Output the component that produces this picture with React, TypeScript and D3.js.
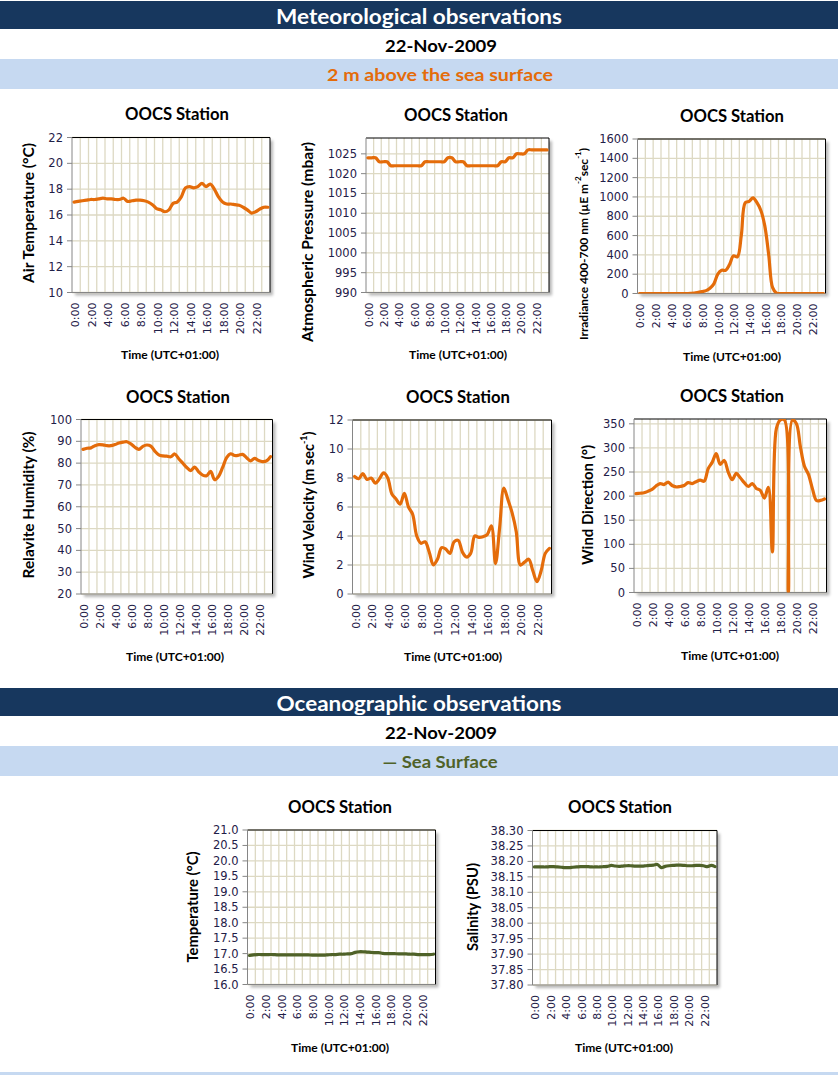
import React from 'react';
import * as d3 from 'd3';

// ---------- categories ----------
const TIMES = [
  '0:00','0:30','1:00','1:30','2:00','2:30','3:00','3:30','4:00','4:30','5:00','5:30',
  '6:00','6:30','7:00','7:30','8:00','8:30','9:00','9:30','10:00','10:30','11:00','11:30',
  '12:00','12:30','13:00','13:30','14:00','14:30','15:00','15:30','16:00','16:30','17:00','17:30',
  '18:00','18:30','19:00','19:30','20:00','20:30','21:00','21:30','22:00','22:30','23:00','23:30',
];
const X_TICK_LABELS = ['0:00','2:00','4:00','6:00','8:00','10:00','12:00','14:00','16:00','18:00','20:00','22:00'];

// ---------- series ----------
const airTemperature = [
  17.0,17.05,17.1,17.15,17.2,17.2,17.25,17.3,17.25,17.25,17.2,17.2,
  17.3,17.05,17.1,17.15,17.15,17.1,17.0,16.8,16.5,16.4,16.25,16.4,
  16.9,17.0,17.4,18.1,18.2,18.1,18.2,18.45,18.2,18.4,18.0,17.4,
  17.0,16.85,16.85,16.8,16.75,16.6,16.4,16.15,16.25,16.45,16.6,16.6,
];
const atmPressure = [
  1024,1024,1024,1023,1023,1023,1022,1022,1022,1022,1022,1022,
  1022,1022,1022,1023,1023,1023,1023,1023,1023,1024,1024,1023,
  1023,1023,1022,1022,1022,1022,1022,1022,1022,1022,1022,1023,
  1023,1024,1024,1025,1025,1025,1026,1026,1026,1026,1026,1026,
];
const irradiance = [
  0,0,0,0,0,0,0,0,0,0,0,0,
  0,2,5,12,20,30,55,100,200,240,240,300,
  390,380,600,940,955,990,940,860,700,400,60,5,
  0,0,0,0,0,0,0,0,0,0,0,0,
];
const humidity = [
  86.3,86.8,87.0,88.0,88.5,88.4,88.0,88.0,88.5,89.2,89.6,89.8,
  88.8,87.3,86.3,87.7,88.3,87.8,85.5,83.8,83.3,83.2,82.9,84.2,
  82.0,80.0,78.0,76.6,78.2,76.0,74.5,74.2,76.2,72.4,74.0,78.0,
  82.5,84.3,83.5,83.6,84.0,82.5,81.0,82.2,81.2,80.7,81.0,83.0,
];
const windVelocity = [
  8.1,7.95,8.3,7.9,8.0,7.65,7.95,8.35,8.0,6.9,6.55,6.2,
  6.95,6.0,5.5,4.0,3.5,3.6,2.9,2.0,2.4,3.2,3.1,2.8,
  3.6,3.7,2.9,2.55,2.8,4.0,3.9,3.95,4.1,4.7,2.1,4.6,
  7.3,6.5,5.6,4.3,2.0,2.2,2.4,1.6,0.85,1.6,2.8,3.15,
];
const windDirection = [
  205,206,207,210,214,221,226,224,229,222,219,220,
  222,228,226,230,233,231,257,270,288,266,274,250,
  234,247,238,228,220,226,216,212,196,218,84,340,
  358,358,0,358,350,302,262,245,215,191,191,194,
];
const seaTemperature = [
  16.94,16.96,16.97,16.97,16.97,16.97,16.97,16.96,16.96,16.96,16.96,16.96,
  16.96,16.96,16.96,16.96,16.95,16.95,16.95,16.95,16.96,16.97,16.97,16.98,
  16.98,16.99,17.0,17.04,17.06,17.06,17.05,17.04,17.03,17.03,17.01,17.0,
  17.0,17.0,16.99,16.99,16.99,16.98,16.98,16.97,16.97,16.97,16.97,16.98,
];
const salinity = [
  38.182,38.182,38.182,38.182,38.183,38.183,38.182,38.181,38.180,38.180,38.181,38.182,
  38.183,38.183,38.183,38.182,38.182,38.182,38.183,38.184,38.187,38.185,38.184,38.185,
  38.186,38.186,38.185,38.185,38.185,38.186,38.187,38.188,38.190,38.180,38.184,38.186,
  38.187,38.188,38.188,38.187,38.186,38.186,38.187,38.187,38.186,38.183,38.187,38.183,
];

// ---------- y ticks ----------
const airTempTicks = [10, 12, 14, 16, 18, 20, 22];
const pressureTicks = [990, 995, 1000, 1005, 1010, 1015, 1020, 1025];
const irradianceTicks = [0, 200, 400, 600, 800, 1000, 1200, 1400, 1600];
const humidityTicks = [20, 30, 40, 50, 60, 70, 80, 90, 100];
const velocityTicks = [0, 2, 4, 6, 8, 10, 12];
const directionTicks = [0, 50, 100, 150, 200, 250, 300, 350];
const seaTempTicks = [16.0, 16.5, 17.0, 17.5, 18.0, 18.5, 19.0, 19.5, 20.0, 20.5, 21.0];
const salinityTicks = [37.8, 37.85, 37.9, 37.95, 38.0, 38.05, 38.1, 38.15, 38.2, 38.25, 38.3];

const ORANGE = '#e46c0a';
const GREEN = '#4f6228';
const NAVY = '#17375e';
const LIGHTBLUE = '#c6d9f1';
const GRID = '#ddd9c3';
const FONT = "Lato, 'Open Sans', sans-serif";
const TICK_FONT = "'DejaVu Sans', Verdana, sans-serif";
const TICK_COLOR = '#1f2048';

type Spec = {
  id: string;
  data: number[];
  color: string;
  box: [number, number, number, number];
  domain: [number, number];
  ticks: number[];
  fmt: string;
  title: [number, number];
  time: [number, number];
  yTitle: [number, number];
  yTitleNode: React.ReactNode;
  yTitleSize: number;
  yTitleLen?: number;
};

const specs: Spec[] = [
  { id: 'c1', data: airTemperature, color: ORANGE, box: [72, 137.5, 270, 292.5], domain: [10, 22], ticks: airTempTicks, fmt: 'd',
    title: [177, 114], time: [170, 354], yTitle: [28, 213], yTitleNode: 'Air Temperature (°C)', yTitleSize: 14.5, yTitleLen: 140 },
  { id: 'c2', data: atmPressure, color: ORANGE, box: [366, 138, 549, 292.5], domain: [990, 1029], ticks: pressureTicks, fmt: 'd',
    title: [456, 115], time: [458, 354], yTitle: [307, 242], yTitleNode: 'Atmospheric Pressure  (mbar)', yTitleSize: 14.5, yTitleLen: 200 },
  { id: 'c3', data: irradiance, color: ORANGE, box: [637.5, 139, 825.5, 293.5], domain: [0, 1600], ticks: irradianceTicks, fmt: 'd',
    title: [732, 116], time: [732, 356], yTitle: [583, 244],
    yTitleNode: (<>Irradiance 400-700 nm  (µE m<tspan fontSize={8} dy={-5}>-2</tspan><tspan dy={5}>sec</tspan><tspan fontSize={8} dy={-5}>-1</tspan><tspan dy={5}>)</tspan></>),
    yTitleSize: 12 },
  { id: 'c4', data: humidity, color: ORANGE, box: [81, 419.5, 272.5, 594], domain: [20, 100], ticks: humidityTicks, fmt: 'd',
    title: [178, 397], time: [175, 656], yTitle: [28, 505], yTitleNode: 'Relavite Humidity  (%)', yTitleSize: 14.5, yTitleLen: 147 },
  { id: 'c5', data: windVelocity, color: ORANGE, box: [352.5, 420, 551.5, 594], domain: [0, 12], ticks: velocityTicks, fmt: 'd',
    title: [458, 397], time: [453, 656], yTitle: [308, 505],
    yTitleNode: (<>Wind Velocity  (m sec<tspan fontSize={9} dy={-5}>-1</tspan><tspan dy={5}>)</tspan></>), yTitleSize: 14.5 },
  { id: 'c6', data: windDirection, color: ORANGE, box: [634, 419, 826.5, 592.5], domain: [0, 360], ticks: directionTicks, fmt: 'd',
    title: [732, 396], time: [730, 655], yTitle: [587, 505], yTitleNode: 'Wind Direction (°)', yTitleSize: 14.5, yTitleLen: 120 },
  { id: 'c7', data: seaTemperature, color: GREEN, box: [247.5, 830, 435.5, 984.5], domain: [16, 21], ticks: seaTempTicks, fmt: '.1f',
    title: [340, 807], time: [340, 1047], yTitle: [192, 907], yTitleNode: 'Temperature (°C)', yTitleSize: 14.5, yTitleLen: 111 },
  { id: 'c8', data: salinity, color: GREEN, box: [532.5, 830.5, 717, 985], domain: [37.8, 38.3], ticks: salinityTicks, fmt: '.2f',
    title: [620, 807], time: [624, 1047], yTitle: [472, 907], yTitleNode: 'Salinity (PSU)', yTitleSize: 14.5, yTitleLen: 88 },
];

function Chart({ s }: { s: Spec }) {
  const [left, top, right, bottom] = s.box;
  const x = d3.scaleBand<string>().domain(TIMES).range([left, right]).padding(0);
  const bw = x.bandwidth();
  const y = d3.scaleLinear().domain(s.domain).range([bottom, top]);
  const fmt = d3.format(s.fmt);
  const line = d3.line<number>()
    .x((_, i) => (x(TIMES[i]) as number) + bw / 2)
    .y((d) => y(d))
    .curve(d3.curveCatmullRom.alpha(0.5));
  const vGrid = TIMES.filter((_, i) => i > 0 && i % 2 === 0);
  return (
    <g>
      <defs>
        <clipPath id={`clip-${s.id}`}>
          <rect x={left} y={top} width={right - left} height={bottom - top} />
        </clipPath>
      </defs>
      <text x={s.title[0]} y={s.title[1]} textAnchor="middle" dominantBaseline="central"
        fontFamily={FONT} fontWeight="bold" fontSize={16.5} fill="#000" textLength={104} lengthAdjust="spacingAndGlyphs">OOCS Station</text>
      <rect x={left + 3} y={top + 3} width={right - left} height={bottom - top} fill="#000" opacity={0.28} filter="url(#shadowBlur)" />
      <rect x={left} y={top} width={right - left} height={bottom - top} fill="#fff" />
      {vGrid.map((t) => (
        <line key={t} x1={x(t)} x2={x(t)} y1={top} y2={bottom} stroke={GRID} strokeWidth={1.3} />
      ))}
      {s.ticks.map((t) => (
        <line key={`h${t}`} x1={left} x2={right} y1={y(t)} y2={y(t)} stroke={GRID} strokeWidth={1.3} />
      ))}
      <line x1={left} x2={right} y1={top} y2={top} stroke="#000" strokeWidth={1} />
      <line x1={right} x2={right} y1={top} y2={bottom} stroke="#000" strokeWidth={1} />
      <line x1={left} x2={right} y1={bottom} y2={bottom} stroke="#868686" strokeWidth={1} />
      <line x1={left} x2={left} y1={top} y2={bottom} stroke="#868686" strokeWidth={1} />
      {s.ticks.map((t) => (
        <g key={`t${t}`}>
          <line x1={left - 5} x2={left} y1={y(t)} y2={y(t)} stroke="#868686" strokeWidth={1} />
          <text x={left - 9} y={y(t)} textAnchor="end" dominantBaseline="central"
            fontFamily={TICK_FONT} fontSize={11.5} fill={TICK_COLOR}>{fmt(t)}</text>
        </g>
      ))}
      <path d={line(s.data) || ''} fill="none" stroke={s.color} strokeWidth={3.2}
        strokeLinejoin="round" strokeLinecap="round" clipPath={`url(#clip-${s.id})`} />
      {X_TICK_LABELS.map((lab) => {
        const cx = (x(lab) as number) + bw / 2 + 1.5;
        return (
          <text key={lab} transform={`translate(${cx},${bottom + 10}) rotate(-90)`} textAnchor="end"
            dominantBaseline="central" fontFamily={TICK_FONT} fontSize={11} fill={TICK_COLOR}>{lab}</text>
        );
      })}
      <text x={s.time[0]} y={s.time[1]} textAnchor="middle" dominantBaseline="central"
        fontFamily={FONT} fontWeight="bold" fontSize={11.5} fill="#000" textLength={98} lengthAdjust="spacingAndGlyphs">Time (UTC+01:00)</text>
      <text transform={`translate(${s.yTitle[0]},${s.yTitle[1]}) rotate(-90)`} textAnchor="middle" dominantBaseline="central"
        fontFamily={FONT} fontWeight="bold" fontSize={s.yTitleSize} fill="#000"
        {...(s.yTitleLen ? { textLength: s.yTitleLen, lengthAdjust: 'spacingAndGlyphs' } : {})}>{s.yTitleNode}</text>
    </g>
  );
}

function Header({ y0, title, date, sub, subColor, subLen, titleLen }: { y0: number; title: string; date: string; sub: string; subColor: string; subLen: number; titleLen: number }) {
  return (
    <g>
      <rect x={0} y={y0} width={838} height={28} fill={NAVY} />
      <text x={419} y={y0 + 15} textAnchor="middle" dominantBaseline="central" fontFamily={FONT} fontWeight="bold"
        fontSize={20} fill="#fff" textLength={titleLen} lengthAdjust="spacingAndGlyphs">{title}</text>
      <text x={441} y={y0 + 44} textAnchor="middle" dominantBaseline="central" fontFamily={FONT} fontWeight="bold"
        fontSize={17} fill="#000" textLength={112} lengthAdjust="spacingAndGlyphs">{date}</text>
      <rect x={0} y={y0 + 58} width={838} height={30} fill={LIGHTBLUE} />
      <text x={440} y={y0 + 73} textAnchor="middle" dominantBaseline="central" fontFamily={FONT} fontWeight="bold"
        fontSize={17.5} fill={subColor} textLength={subLen} lengthAdjust="spacingAndGlyphs">{sub}</text>
    </g>
  );
}

export default function App() {
  return (
    <svg width={838} height={1075} style={{ position: 'absolute', left: 0, top: 0, background: '#fff' }}>
      <defs>
        <filter id="shadowBlur" x="-10%" y="-10%" width="120%" height="120%">
          <feGaussianBlur stdDeviation={1.5} />
        </filter>
      </defs>
      <rect x={0} y={0} width={838} height={1075} fill="#fff" />
      <Header y0={1} title="Meteorological observations" date="22-Nov-2009" sub="2 m above the sea surface" subColor={ORANGE} subLen={226} titleLen={286} />
      <Header y0={688} title="Oceanographic observations" date="22-Nov-2009" sub="— Sea Surface" subColor={GREEN} subLen={115} titleLen={285} />
      {specs.map((s) => <Chart key={s.id} s={s} />)}
      <rect x={0} y={1072} width={838} height={3} fill={LIGHTBLUE} />
    </svg>
  );
}
